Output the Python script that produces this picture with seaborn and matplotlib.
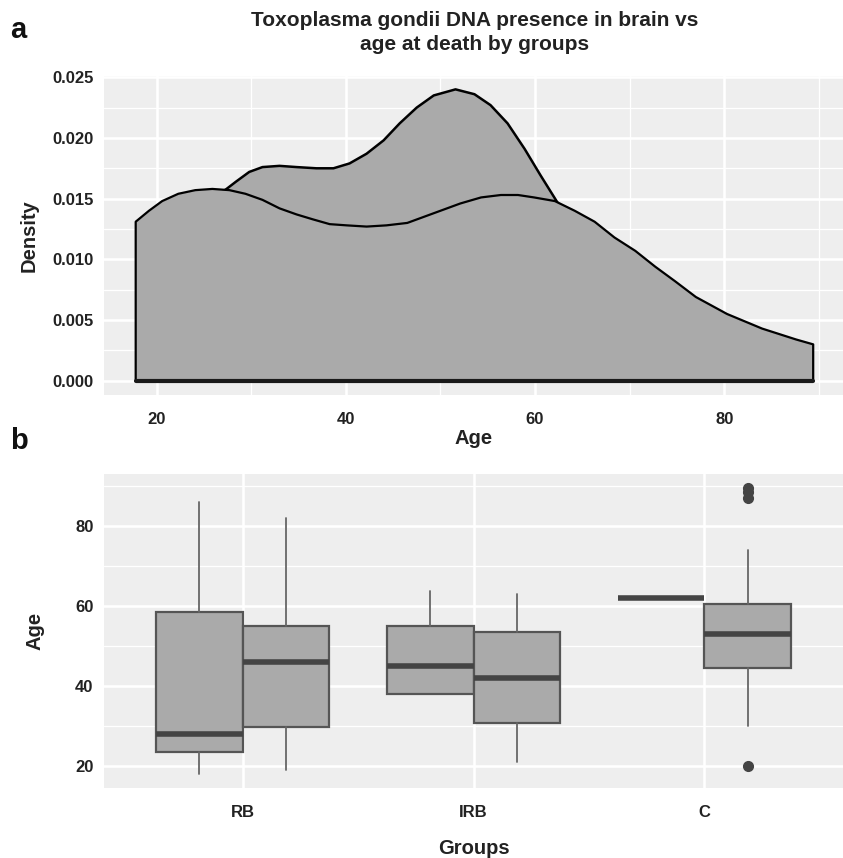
import numpy as np
import pandas as pd
import matplotlib
matplotlib.use("Agg")
import matplotlib.pyplot as plt
from matplotlib.ticker import MultipleLocator, FixedLocator
import seaborn as sns

# ---------------- data ----------------
# Panel a: density curves (age, density)
dens1_age = [17.8, 19.2, 20.6, 22.3, 24.1, 25.9, 27.7, 29.4, 31.2, 33.0, 34.8, 36.5,
             38.3, 40.1, 42.2, 44.3, 46.5, 47.9, 50.0, 52.1, 54.3, 56.4, 58.2, 59.9,
             62.1, 64.2, 66.3, 68.4, 70.6, 72.7, 74.8, 77.0, 80.3, 84.0, 87.6, 89.4]
dens1_val = [0.0131, 0.0140, 0.0148, 0.0154, 0.0157, 0.0158, 0.0157, 0.0154, 0.0149,
             0.0142, 0.0137, 0.0133, 0.0129, 0.0128, 0.0127, 0.0128, 0.0130, 0.0134,
             0.0140, 0.0146, 0.0151, 0.0153, 0.0153, 0.0151, 0.0148, 0.0140, 0.0131,
             0.0118, 0.0107, 0.0094, 0.0082, 0.0069, 0.0055, 0.0043, 0.0034, 0.0030]

dens2_age = [21.0, 24.0, 27.4, 28.4, 29.8, 31.2, 33.0, 34.8, 36.9, 38.7, 40.4, 42.2,
             44.0, 45.7, 47.5, 49.3, 51.6, 53.6, 55.3, 57.1, 58.9, 60.6, 62.2, 64.5,
             67.0, 70.0, 73.0]
dens2_val = [0.0110, 0.0140, 0.0158, 0.0164, 0.0172, 0.0176, 0.0177, 0.0176, 0.0175,
             0.0175, 0.0179, 0.0187, 0.0198, 0.0212, 0.0225, 0.0235, 0.0240, 0.0236,
             0.0227, 0.0212, 0.0191, 0.0169, 0.0149, 0.0120, 0.0085, 0.0045, 0.0020]

# Panel b: box statistics per group (two boxes per group)
groups = ["RB", "IRB", "C"]
box_q1 = [[23.3, 29.8], [37.9, 30.8], [62.1, 44.5]]
box_med = [[27.9, 46.0], [44.9, 41.9], [62.1, 53.0]]
box_q3 = [[58.4, 55.0], [55.1, 53.6], [62.1, 60.6]]
box_lo = [[17.9, 18.9], [37.9, 20.8], [62.1, 30.0]]
box_hi = [[86.1, 82.0], [63.8, 63.0], [62.1, 74.0]]
box_fliers = [[[], []], [[], []], [[], [89.5, 88.5, 87.0, 20.0]]]

# ---------------- style ----------------
sns.set_theme(style="darkgrid")
plt.rcParams["font.family"] = ["Liberation Sans", "DejaVu Sans"]
plt.rcParams["font.weight"] = "bold"

PANEL = "#eeeeee"
FILL = "#aaaaaa"
TXT = "#222222"

fig = plt.figure(figsize=(8.43, 8.58), dpi=100)
W, H = 843, 858
axA = fig.add_axes([104 / W, 1 - 395 / H, (843 - 104) / W, (395 - 76) / H])
axB = fig.add_axes([104 / W, 1 - 788 / H, (843 - 104) / W, (788 - 474) / H])


def style_axes(ax):
    ax.set_facecolor(PANEL)
    for s in ax.spines.values():
        s.set_visible(False)
    ax.grid(which="major", color="white", linewidth=1.9)
    ax.grid(which="minor", color="white", linewidth=0.9)
    ax.set_axisbelow(True)
    ax.tick_params(which="major", width=1.2, color="#333333",
                   labelcolor=TXT, labelsize=12)
    ax.tick_params(axis="y", which="major", length=4.5, pad=3)
    ax.tick_params(axis="x", which="major", length=5, pad=7)
    ax.tick_params(which="minor", length=0)
    for lab in ax.get_xticklabels() + ax.get_yticklabels():
        lab.set_fontweight("bold")


# ---------------- panel a ----------------
df1 = pd.DataFrame({"age": dens1_age, "density": dens1_val})
df2 = pd.DataFrame({"age": dens2_age, "density": dens2_val})

# taller curve first, then the other on top (opaque fills)
axA.fill_between(df2["age"], 0, df2["density"], color=FILL, zorder=2, linewidth=0)
sns.lineplot(x=df2["age"], y=df2["density"], ax=axA, color="black", linewidth=1.8,
             sort=False, estimator=None, zorder=2.5)
axA.fill_between(df1["age"], 0, df1["density"], color=FILL, zorder=3, linewidth=0)
outline_x = [dens1_age[0]] + dens1_age + [dens1_age[-1]]
outline_y = [0.0] + dens1_val + [0.0]
sns.lineplot(x=outline_x, y=outline_y, ax=axA, color="black", linewidth=1.6,
             sort=False, estimator=None, zorder=3.5)
sns.lineplot(x=[dens1_age[0], dens1_age[-1]], y=[0.0, 0.0], ax=axA, color="#1a1a1a",
             linewidth=3.0, sort=False, estimator=None, zorder=4)

axA.set_xlim(14.45, 92.55)
axA.set_ylim(-0.00117, 0.0251)
axA.xaxis.set_minor_locator(FixedLocator([30, 50, 70, 90]))
axA.yaxis.set_minor_locator(FixedLocator([0.0025, 0.0075, 0.0125, 0.0175, 0.0225]))
axA.set_yticks([0, 0.005, 0.01, 0.015, 0.02, 0.025])
axA.set_yticklabels(["0.000", "0.005", "0.010", "0.015", "0.020", "0.025"])
axA.set_xticks([20, 40, 60, 80])
axA.set_xticklabels(["20", "40", "60", "80"])
style_axes(axA)
axA.set_xlabel("Age", fontsize=14.5, fontweight="bold", color=TXT, labelpad=2)
axA.set_ylabel("Density", fontsize=14.5, fontweight="bold", color=TXT, labelpad=10)

# ---------------- panel b ----------------
half = 0.1875
stats = []
positions = []
for i, g in enumerate(groups):
    for j in range(2):
        stats.append(dict(med=box_med[i][j], q1=box_q1[i][j], q3=box_q3[i][j],
                          whislo=box_lo[i][j], whishi=box_hi[i][j],
                          fliers=box_fliers[i][j], label=""))
        positions.append(i + (-half if j == 0 else half))

axB.bxp(stats, positions=positions, widths=0.375, patch_artist=True, showcaps=False,
        manage_ticks=False,
        boxprops=dict(facecolor=FILL, edgecolor="#555555", linewidth=1.6),
        medianprops=dict(color="#444444", linewidth=4.0, solid_capstyle="butt"),
        whiskerprops=dict(color="#666666", linewidth=1.3),
        flierprops=dict(marker="o", markerfacecolor="#444444", markeredgecolor="#444444",
                        markersize=7))

axB.set_xlim(-0.6, 2.6)
axB.set_ylim(14.4, 93.1)
axB.set_xticks([0, 1, 2])
axB.set_xticklabels(groups)
axB.yaxis.set_major_locator(FixedLocator([20, 40, 60, 80]))
axB.yaxis.set_minor_locator(FixedLocator([30, 50, 70, 90]))
style_axes(axB)
axB.set_xlabel("Groups", fontsize=14.5, fontweight="bold", color=TXT, labelpad=14)
axB.set_ylabel("Age", fontsize=14.5, fontweight="bold", color=TXT, labelpad=22)

# ---------------- titles / panel letters ----------------
fig.text(475 / W, 1 - 21 / H, "Toxoplasma gondii DNA presence in brain vs",
         ha="center", va="center", fontsize=15, fontweight="bold", color=TXT)
fig.text(475 / W, 1 - 45 / H, "age at death by groups",
         ha="center", va="center", fontsize=15, fontweight="bold", color=TXT)
fig.text(10 / W, 1 - 30 / H, "a", ha="left", va="center", fontsize=21,
         fontweight="bold", color="#111111")
fig.text(10 / W, 1 - 441 / H, "b", ha="left", va="center", fontsize=21,
         fontweight="bold", color="#111111")

fig.savefig("out.png", dpi=100, facecolor="white")
